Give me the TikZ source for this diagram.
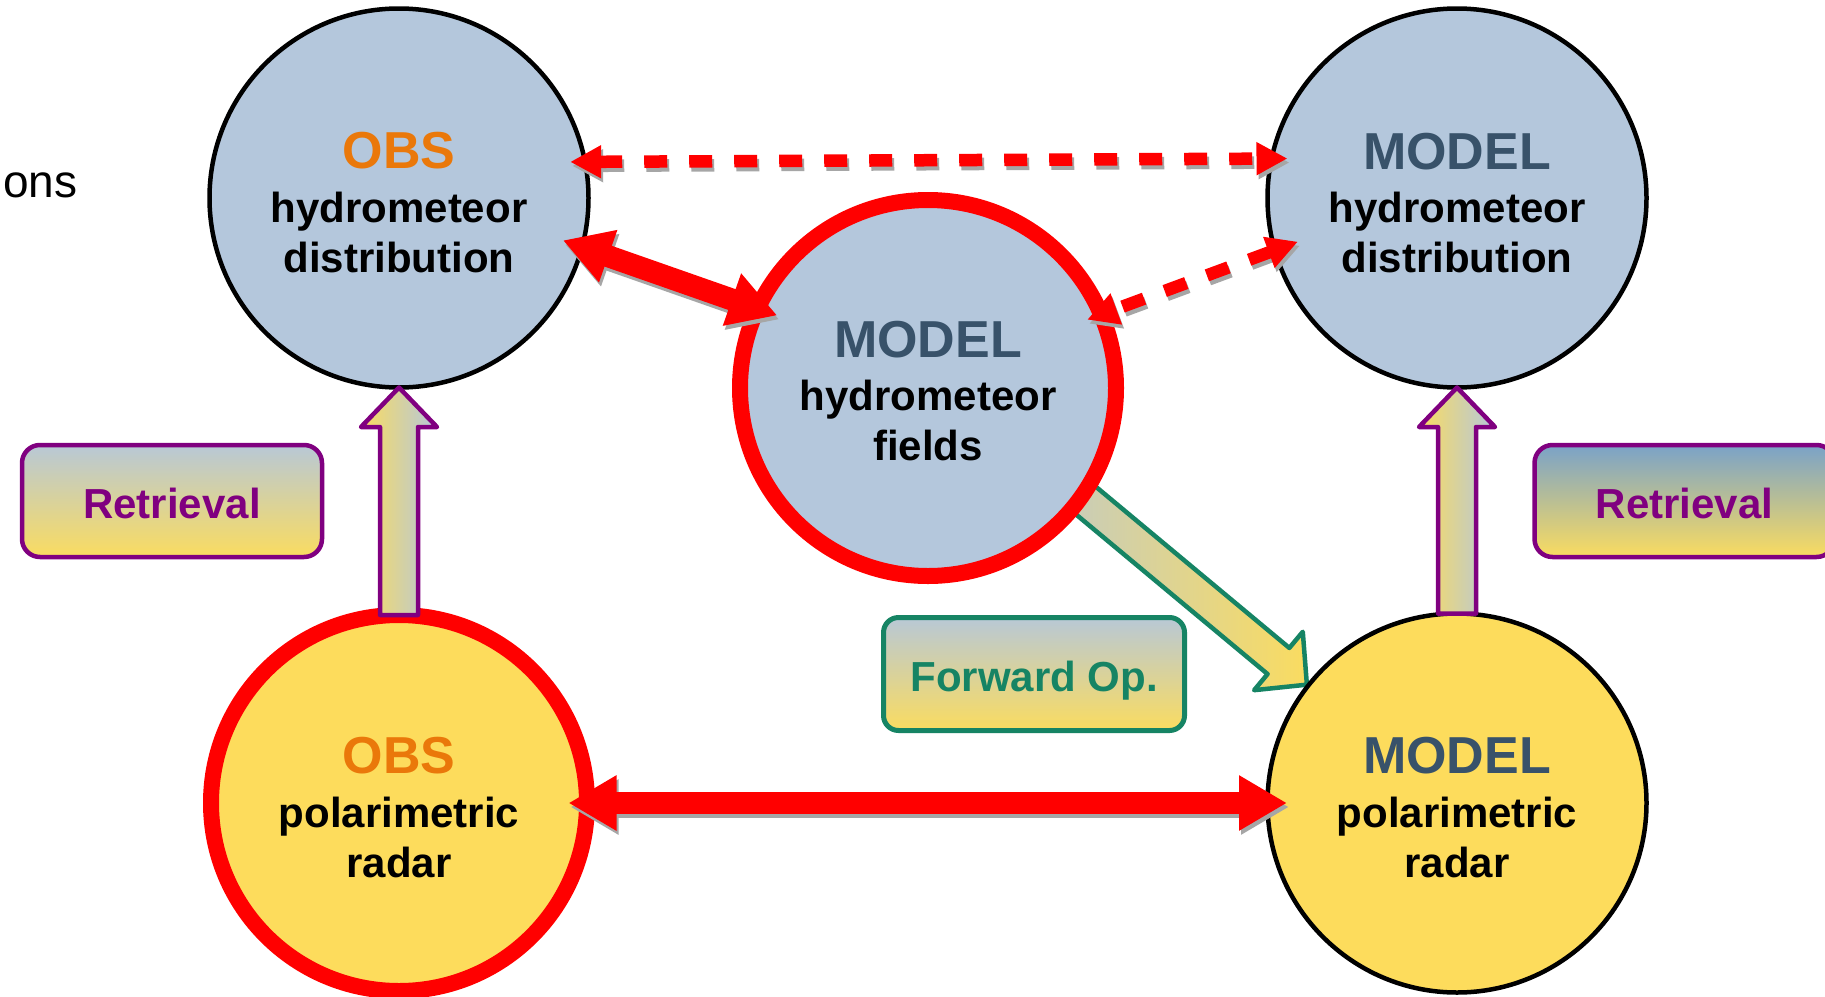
\documentclass[tikz,border=0pt]{standalone}
\usepackage{fontspec}
\setmainfont{Liberation Sans}
\usetikzlibrary{arrows.meta,backgrounds,calc}

\definecolor{hblue}{RGB}{180,199,220}
\definecolor{hyel}{RGB}{253,220,92}
\definecolor{obsor}{RGB}{234,120,10}
\definecolor{modsl}{RGB}{56,82,106}
\definecolor{purp}{RGB}{128,0,128}
\definecolor{tealg}{RGB}{22,132,100}
\definecolor{shgray}{RGB}{166,166,166}
\definecolor{gbtop}{RGB}{184,200,214}
\definecolor{gbtopb}{RGB}{122,162,200}
\definecolor{gyel}{RGB}{250,220,96}

\tikzset{
  bubble/.style={circle, inner sep=0pt, outer sep=0pt, minimum size=379pt, line width=4.5pt, draw=black},
  redbubble/.style={bubble, minimum size=376pt, line width=16pt, draw=red},
  bigtxt/.style={font=\fontsize{52}{52}\selectfont\bfseries, anchor=base, inner sep=0pt},
  medtxt/.style={font=\fontsize{42}{42}\selectfont\bfseries, anchor=base, inner sep=0pt},
  dashred/.style={line width=12.5pt, dash pattern=on 23pt off 22pt, >={Triangle[length=31pt,width=31pt]}, <->},
  thickred/.style={line width=22pt, >={Triangle[length=48pt,width=52pt]}, <->},
  shadowed/.style={draw=shgray, transform canvas={shift={(2pt,-4pt)}}},
  redline/.style={draw=red},
  retarrow/.style={draw=purp, line width=4.5pt, line join=round, left color=gyel, right color=hblue},
  fwdarrow/.style={draw=tealg, line width=4.5pt, line join=round, left color=gbtop, right color=gyel},
  retbox/.style={draw=purp, line width=4.5pt, rounded corners=18pt, minimum width=300pt, minimum height=112pt,
    inner sep=0pt, text=purp, font=\fontsize{42}{42}\selectfont\bfseries, text height=34pt, text depth=0pt,
    bottom color=gyel},
  fwdbox/.style={draw=tealg, line width=5pt, rounded corners=15pt, minimum width=301pt, minimum height=113pt,
    inner sep=0pt, text=tealg, font=\fontsize{42}{42}\selectfont\bfseries, text height=34pt, text depth=0pt,
    top color=gbtop, bottom color=gyel}
}

\begin{document}
\begin{tikzpicture}[x=1pt, y=-1pt]
\useasboundingbox (0,0) rectangle (1825,996);

% circles
\node[bubble, fill=hblue] (obsh) at (399,198) {};
\node[bubble, fill=hblue] (mdh) at (1457,198) {};
\node[redbubble, fill=hblue] (mc) at (928,388) {};
\node[redbubble, fill=hyel] (obsr) at (399,803) {};
\node[bubble, fill=hyel] (mr) at (1457,803) {};

% background: white and forward operator arrow
\begin{pgfonlayer}{background}
\fill[white] (0,0) rectangle (1825,996);
\begin{scope}[shift={(mc.center)}, rotate=-39.8]
\draw[fwdarrow] (82,-31.6) -- (444,-31.6) -- (444,-52.6) -- (481,-14.6) -- (444,23.4) -- (444,2.4) -- (82,2.4) -- cycle;
\end{scope}
\end{pgfonlayer}

% circle texts
\node[bigtxt, text=obsor] (obsh1) at (399,168) {OBS};
\node[medtxt] (obsh2) at (399,222) {hydrometeor};
\node[medtxt] (obsh3) at (399,272) {distribution};

\node[bigtxt, text=modsl] (mdh1) at (1457,169) {MODEL};
\node[medtxt] (mdh2) at (1457,222) {hydrometeor};
\node[medtxt] (mdh3) at (1457,272) {distribution};

\node[bigtxt, text=modsl] (mc1) at (928,357) {MODEL};
\node[medtxt] (mc2) at (928,410) {hydrometeor};
\node[medtxt] (mc3) at (928,460) {fields};

\node[bigtxt, text=obsor] (obsr1) at (399,773) {OBS};
\node[medtxt] (obsr2) at (399,827) {polarimetric};
\node[medtxt] (obsr3) at (399,877) {radar};

\node[bigtxt, text=modsl] (mr1) at (1457,773) {MODEL};
\node[medtxt] (mr2) at (1457,827) {polarimetric};
\node[medtxt] (mr3) at (1457,877) {radar};

% leftover text
\node[anchor=base west, inner sep=0pt, font=\fontsize{46}{46}\selectfont] (ons) at (3,197) {ons};

% retrieval block arrows
\draw[retarrow] ([xshift=-19pt]obsr.north) -- ([xshift=-19pt,yshift=-39.5pt]obsh.south)
  -- ([xshift=-38pt,yshift=-39.5pt]obsh.south) -- (obsh.south)
  -- ([xshift=38pt,yshift=-39.5pt]obsh.south) -- ([xshift=19pt,yshift=-39.5pt]obsh.south)
  -- ([xshift=19pt]obsr.north) -- cycle;
\draw[retarrow] ([xshift=-19pt]mr.north) -- ([xshift=-19pt,yshift=-39.5pt]mdh.south)
  -- ([xshift=-38pt,yshift=-39.5pt]mdh.south) -- (mdh.south)
  -- ([xshift=38pt,yshift=-39.5pt]mdh.south) -- ([xshift=19pt,yshift=-39.5pt]mdh.south)
  -- ([xshift=19pt]mr.north) -- cycle;

% boxes
\node[retbox, top color=gbtop] (retl) at (172,501) {Retrieval};
\node[retbox, top color=gbtopb] (retr) at (1684.5,501) {Retrieval};
\node[fwdbox] (fwd) at (1034,674) {Forward Op.};

% shadows of red connectors
\draw[dashred, shadowed, shorten <=-14.85pt, shorten >=-15.85pt] (obsh.11.26) -- (mdh.168.74);
\draw[dashred, shadowed, shorten <=-24.6pt, shorten >=-14.8pt] (mdh.196) -- (mc.23.45);
\draw[thickred, shadowed, shorten <=-20.3pt, shorten >=-20.8pt] (obsh.345.05) -- (mc.155.5);
\draw[thickred, shadowed, shorten <=-18.5pt, shorten >=-19.5pt] (obsr.east) -- (mr.west);

% red connectors
\draw[dashred, redline, shorten <=-14.85pt, shorten >=-15.85pt] (obsh.11.26) -- (mdh.168.74);
\draw[dashred, redline, shorten <=-24.6pt, shorten >=-14.8pt] (mdh.196) -- (mc.23.45);
\draw[thickred, redline, shorten <=-20.3pt, shorten >=-20.8pt] (obsh.345.05) -- (mc.155.5);
\draw[thickred, redline, shorten <=-18.5pt, shorten >=-19.5pt] (obsr.east) -- (mr.west);
\end{tikzpicture}
\end{document}
